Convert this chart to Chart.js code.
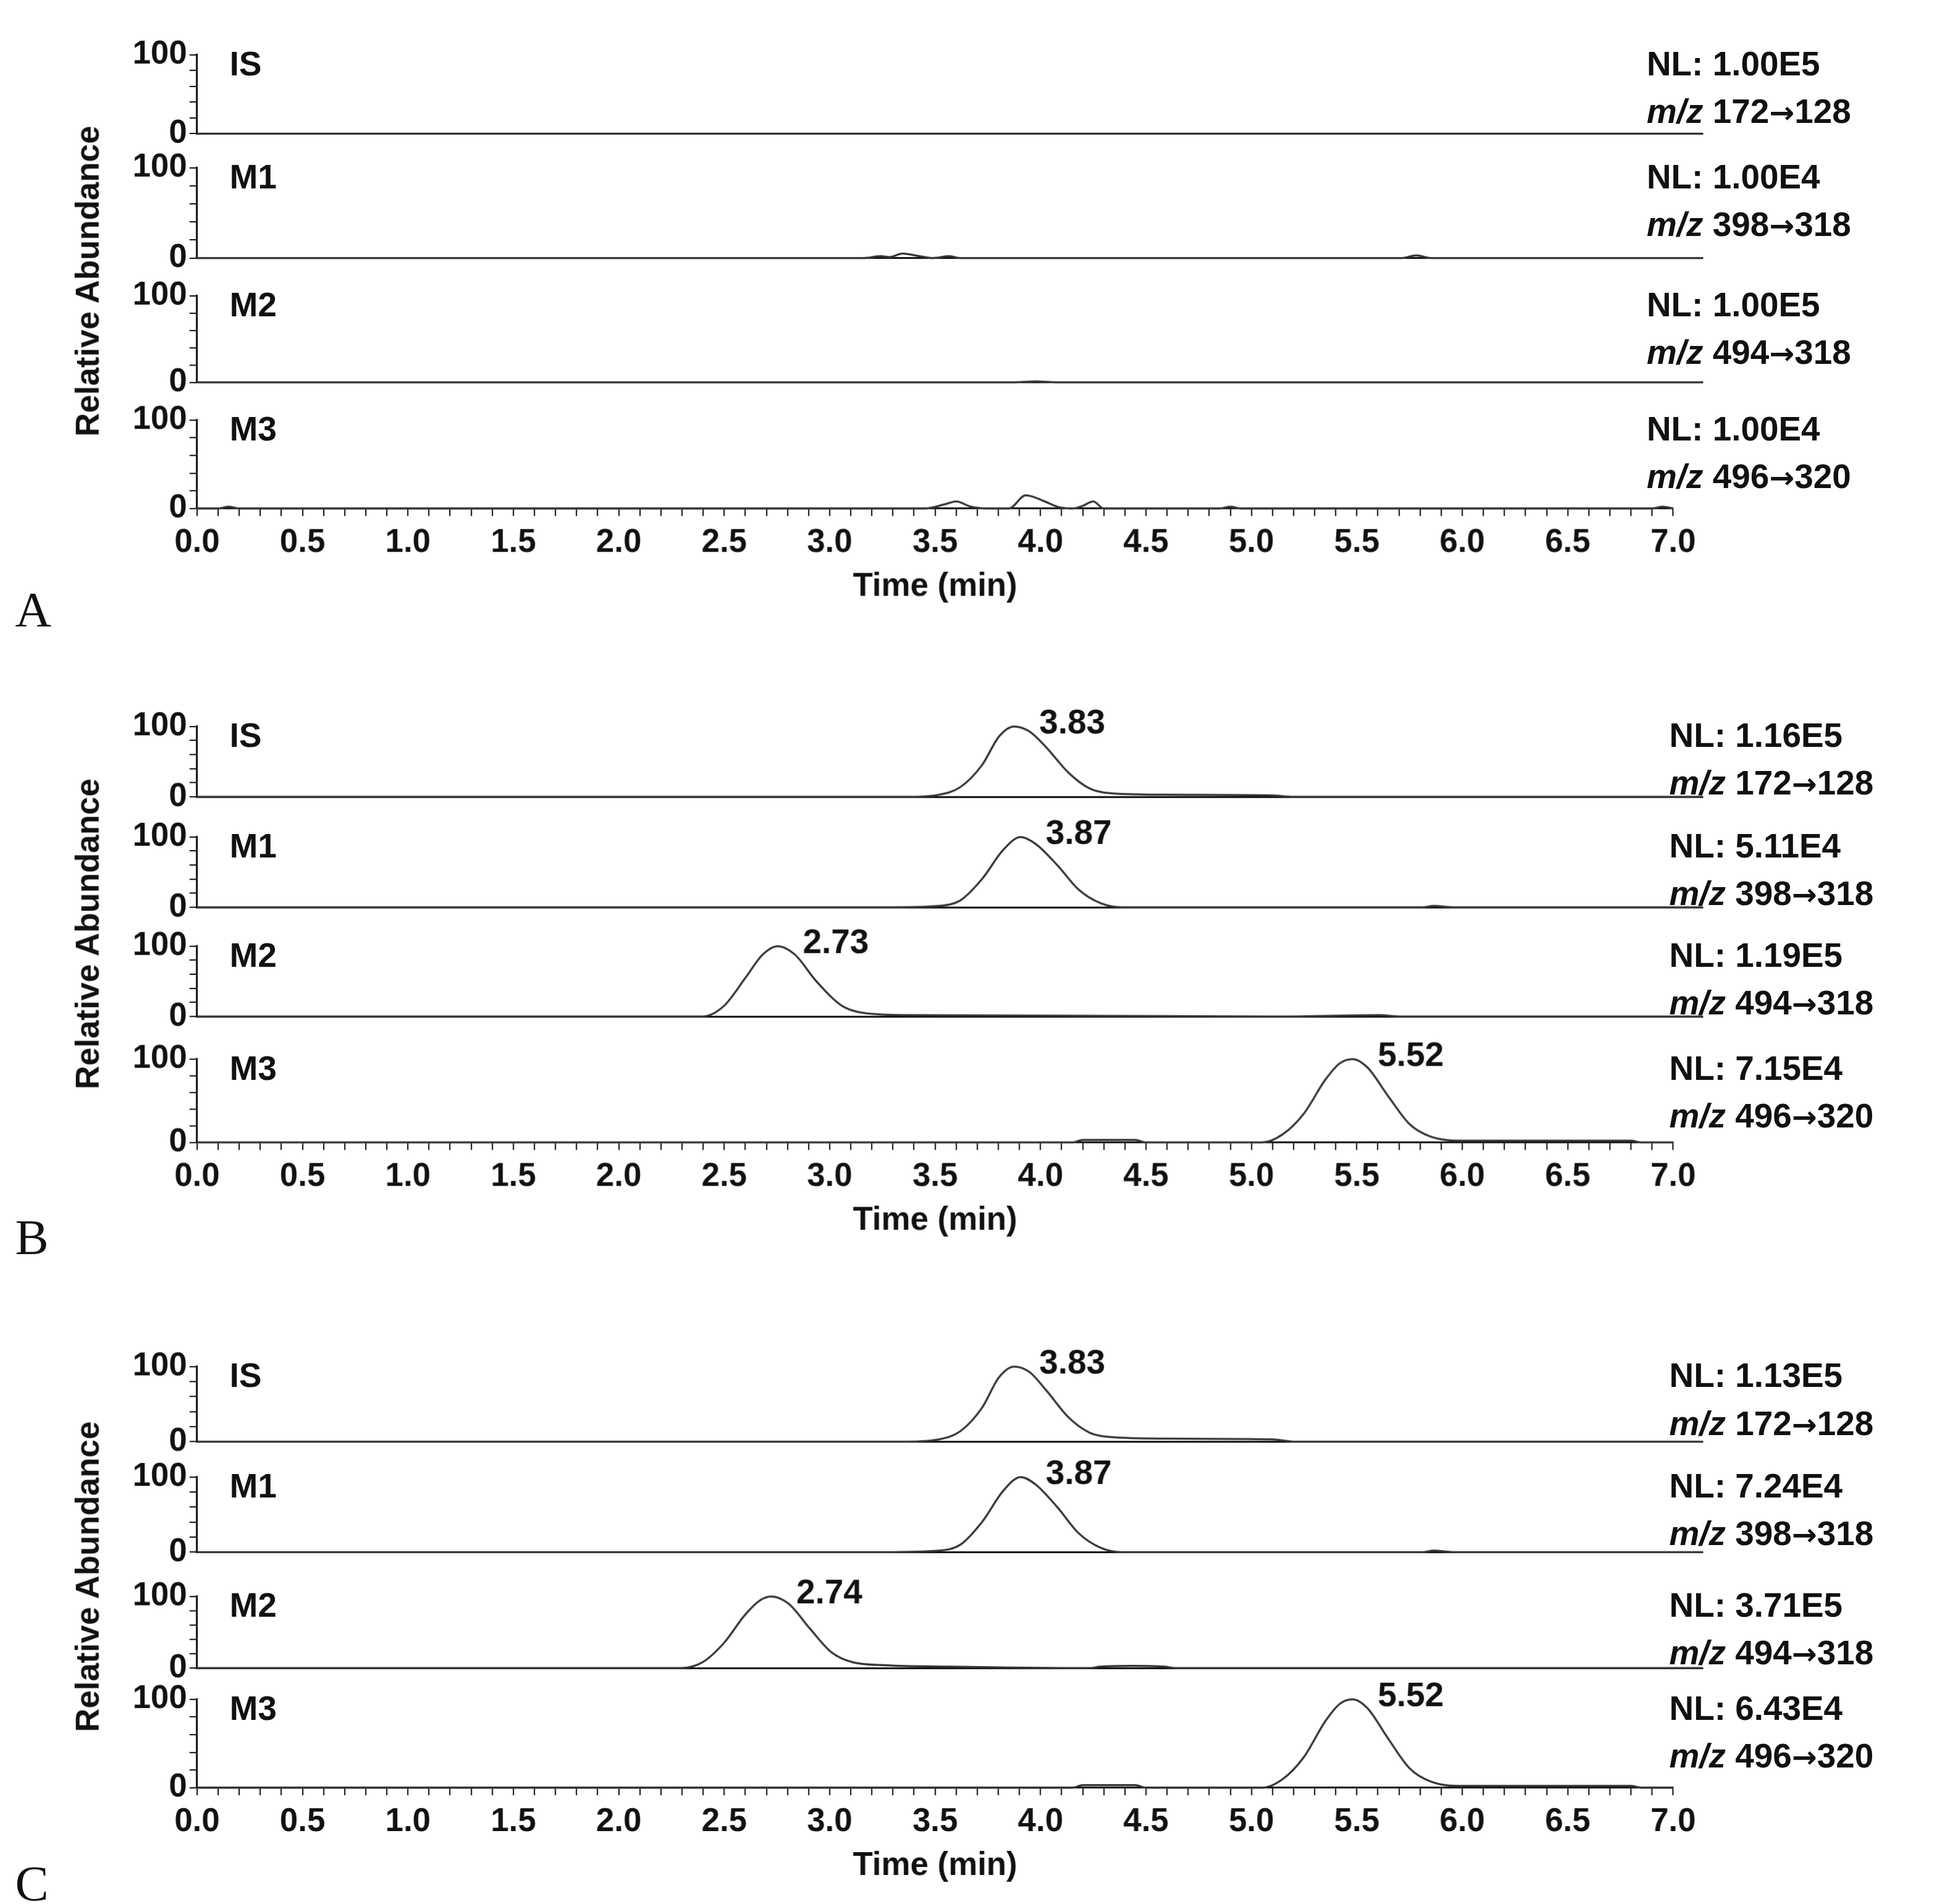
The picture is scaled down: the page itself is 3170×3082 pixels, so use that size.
<!DOCTYPE html>
<html><head><meta charset="utf-8">
<script src="https://cdn.jsdelivr.net/npm/chart.js@4"></script>
<style>
html,body{margin:0;padding:0;background:#fff;}
#wrap{position:absolute;left:0;top:0;width:1560px;height:1520px;transform:scale(2.032);transform-origin:0 0;font-family:Arial,"Liberation Sans",sans-serif;}
canvas{position:absolute;}
.t{position:absolute;font-weight:bold;font-size:27px;color:#111;white-space:nowrap;line-height:1;}
.nl{position:absolute;font-weight:bold;font-size:27px;color:#111;white-space:nowrap;line-height:38px;}
.nl span.ar{font-family:"DejaVu Sans",sans-serif;font-size:24px;}
.ya{position:absolute;font-weight:bold;font-size:26px;color:#111;white-space:nowrap;transform:translate(-50%,-50%) rotate(-90deg);}
.let{position:absolute;font-family:"Liberation Serif","DejaVu Serif",serif;font-size:40px;color:#111;}
</style></head><body><div id="wrap"></div>
<script>
// ---------- data ----------
const xTickLabels = ["0.0","0.5","1.0","1.5","2.0","2.5","3.0","3.5","4.0","4.5","5.0","5.5","6.0","6.5","7.0"];
const traceNames = ["IS","M1","M2","M3"];
const panelLetters = ["A","B","C"];
const nlA = ["1.00E5","1.00E4","1.00E5","1.00E4"];
const nlB = ["1.16E5","5.11E4","1.19E5","7.15E4"];
const nlC = ["1.13E5","7.24E4","3.71E5","6.43E4"];
const transFrom = ["172","398","494","496"];
const transTo = ["128","318","318","320"];
const peakB = [3.83,3.87,2.73,5.52];
const peakC = [3.83,3.87,2.74,5.52];

// Panel A
const tA_IS = [0,7.0];                     const yA_IS = [0,0];
const tA_M1 = [0,3.1,3.18,3.22,3.28,3.34,3.42,3.5,3.55,3.6,5.6,5.67,5.74,7.0];
const yA_M1 = [0,0,2,1,5,3,0,2,0,0,0,3,0,0];
const tA_M2 = [0,3.8,3.9,4.0,7.0];         const yA_M2 = [0,0,1,0,0];
const tA_M3 = [0,0.1,0.15,0.2,3.45,3.55,3.6,3.67,3.75,3.85,3.93,4.02,4.08,4.15,4.2,4.25,4.3,4.85,4.9,4.95,6.9,6.95,7.0];
const yA_M3 = [0,0,2,0,0,5,8,2,0,0,15,8,2,0,3,8,0,0,2,0,0,2,0];
// Panel B
const tB_IS = [0,3.3,3.45,3.55,3.65,3.73,3.8,3.87,3.95,4.05,4.15,4.25,4.5,5.0,5.1,7.0];
const yB_IS = [0,0,3,14,45,86,100,93,70,35,12,5,3,2,0,0];
const tB_M1 = [0,3.2,3.45,3.55,3.65,3.75,3.83,3.9,4.0,4.1,4.2,4.3,5.7,5.75,5.85,7.0];
const yB_M1 = [0,0,2,10,40,82,100,90,60,25,6,0,0,2,0,0];
const tB_M2 = [0,2.35,2.45,2.55,2.63,2.7,2.78,2.88,3.0,3.1,3.3,5.0,5.5,5.6,7.0];
const yB_M2 = [0,0,15,55,88,100,88,50,15,5,2,0,2,0,0];
const tB_M3 = [0,4.15,4.2,4.45,4.5,5.05,5.15,5.25,5.35,5.42,5.48,5.55,5.65,5.75,5.85,6.0,6.8,6.85,7.0];
const yB_M3 = [0,0,3,3,0,0,10,35,75,95,100,90,55,22,7,2,2,0,0];
// Panel C
const tC_IS = [0,3.3,3.45,3.55,3.65,3.73,3.8,3.87,3.95,4.05,4.15,4.25,4.5,5.0,5.1,7.0];
const yC_IS = [0,0,3,14,45,86,100,93,68,33,12,6,4,3,0,0];
const tC_M1 = [0,3.2,3.45,3.55,3.65,3.75,3.83,3.9,4.0,4.1,4.2,4.3,5.7,5.75,5.85,7.0];
const yC_M1 = [0,0,2,10,40,82,100,90,60,25,6,0,0,2,0,0];
const tC_M2 = [0,2.25,2.35,2.45,2.55,2.62,2.67,2.75,2.85,2.95,3.05,3.2,3.5,4.15,4.2,4.35,4.5,4.55,7.0];
const yC_M2 = [0,0,8,35,75,95,100,90,55,22,8,4,2,0,2,3,2,0,0];
const tC_M3 = [0,4.15,4.2,4.45,4.5,5.05,5.15,5.25,5.35,5.42,5.48,5.55,5.65,5.75,5.85,6.0,6.8,6.85,7.0];
const yC_M3 = [0,0,3,3,0,0,10,35,75,95,100,90,55,22,7,2,2,0,0];

// ---------- layout ----------
const panels = [
  {letter:"A", nl:nlA, peaks:null, nlX:1312, rows:[[42,108],[132,207],[234,306],[333,405]], letterY:462, traces:[[tA_IS,yA_IS],[tA_M1,yA_M1],[tA_M2,yA_M2],[tA_M3,yA_M3]]},
  {letter:"B", nl:nlB, peaks:peakB, nlX:1330, rows:[[577,636],[665,724],[752,811],[842,910]], letterY:962, traces:[[tB_IS,yB_IS],[tB_M1,yB_M1],[tB_M2,yB_M2],[tB_M3,yB_M3]]},
  {letter:"C", nl:nlC, peaks:peakC, nlX:1330, rows:[[1087,1150],[1175,1238],[1270,1330],[1352,1424]], letterY:1477, traces:[[tC_IS,yC_IS],[tC_M1,yC_M1],[tC_M2,yC_M2],[tC_M3,yC_M3]]}
];

const wrap = document.getElementById('wrap');
const FONT = {family:'Arial, "Liberation Sans", sans-serif', weight:'bold', size:26};
const LEFT = 67, YW = 90, CW = 1290, PADT = 16;

const peakPlugin = {
  id:'peakLabel',
  afterDatasetsDraw(chart, args, opts){
    if (opts.value == null) return;
    const ctx = chart.ctx, xs = chart.scales.x, ys = chart.scales.y;
    const ds = chart.data.datasets[0].data;
    let best = ds[0]; ds.forEach(p=>{ if (p.y > best.y) best = p; });
    ctx.save();
    ctx.font = 'bold 27px Arial, "Liberation Sans", sans-serif';
    ctx.fillStyle = '#111'; ctx.textBaseline = 'middle';
    ctx.fillText(opts.value.toFixed(2), xs.getPixelForValue(best.x) + 20, ys.getPixelForValue(100) - 2);
    ctx.restore();
  }
};

panels.forEach((p, pi) => {
  p.rows.forEach((r, ri) => {
    const last = ri === 3;
    const top = r[0] - PADT, areaH = r[1] - r[0];
    const xH = last ? 78 : 16;
    const h = PADT + areaH + xH;
    const holder = document.createElement('div');
    holder.style.cssText = `position:absolute;left:${LEFT}px;top:${top}px;width:${CW}px;height:${h}px;`;
    const c = document.createElement('canvas');
    holder.appendChild(c); wrap.appendChild(holder);
    const tr = p.traces[ri];
    const pts = tr[0].map((x,i)=>({x:x, y:tr[1][i]}));
    new Chart(c, {
      type:'line',
      data:{datasets:[{data:pts, borderColor:'#333', borderWidth:1.6, pointRadius:0, tension:0.35, cubicInterpolationMode:'monotone', fill:false, clip:false}]},
      options:{
        responsive:true, maintainAspectRatio:false, animation:false, devicePixelRatio:2.032,
        layout:{padding:{top:0, right:0, left:0, bottom:0}},
        plugins:{legend:{display:false}, tooltip:{enabled:false}, peakLabel:{value: p.peaks ? p.peaks[ri] : null}},
        scales:{
          x:{type:'linear', min:0, max:7.0,
             border:{color:'#111', width:1.5},
             grid:{display:true, drawOnChartArea:false, drawTicks:last, tickLength:6, color:'#111'},
             ticks:{display:last, stepSize:0.1, autoSkip:false, maxRotation:0, color:'#111', font:FONT, padding:6,
               callback:(v)=>{ const k=Math.round(v*10); return (k%5===0 && k>=0) ? xTickLabels[k/5] : ''; }},
             title:{display:last, text:'Time (min)', color:'#111', font:FONT, padding:{top:2,bottom:0}},
             afterFit:(s)=>{ s.height = xH; }
          },
          y:{min:0, max:100,
             border:{color:'#111', width:1.5},
             grid:{display:true, drawOnChartArea:false, tickLength:6, color:'#111'},
             ticks:{stepSize:20, autoSkip:false, color:'#111', font:FONT, padding:2,
               callback:(v)=> (v===0||v===100) ? String(v) : ''},
             afterFit:(s)=>{ s.width = YW; }
          }
        }
      },
      plugins:[peakPlugin]
    });
    const nm = document.createElement('div'); nm.className='t';
    nm.style.left = '183px'; nm.style.top = (r[0] - 4) + 'px'; nm.textContent = traceNames[ri];
    wrap.appendChild(nm);
    const nl = document.createElement('div'); nl.className='nl';
    nl.style.left = p.nlX + 'px'; nl.style.top = (r[0] - 10) + 'px';
    nl.innerHTML = 'NL: ' + p.nl[ri] + '<br><i>m/z</i> ' + transFrom[ri] + '<span class="ar">\u2192</span>' + transTo[ri];
    wrap.appendChild(nl);
  });
  const ya = document.createElement('div'); ya.className='ya';
  ya.style.left = '70px'; ya.style.top = ((p.rows[0][0] + p.rows[3][1]) / 2) + 'px';
  ya.textContent = 'Relative Abundance';
  wrap.appendChild(ya);
  const L = document.createElement('div'); L.className='let';
  L.style.left = '12px'; L.style.top = p.letterY + 'px'; L.textContent = p.letter;
  wrap.appendChild(L);
});
</script></body></html>
